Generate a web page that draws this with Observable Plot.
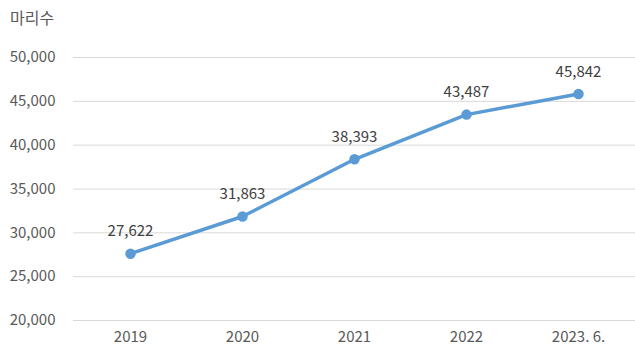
<!DOCTYPE html>
<html>
<head>
<meta charset="utf-8">
<script src="https://cdn.jsdelivr.net/npm/d3@7"></script>
<script src="https://cdn.jsdelivr.net/npm/@observablehq/plot@0.6"></script>
<style>
  body { margin: 0; background: #fff; }
  #wrap { position: relative; width: 635px; height: 364px; }
  #unit { position: absolute; left: 10px; top: 5px; font: 16px "Noto Sans CJK KR", "Noto Sans", sans-serif; color: #595959; }
</style>
</head>
<body>
<div id="wrap"><div id="unit">마리수</div></div>
<script>
const years = ["2019", "2020", "2021", "2022", "2023. 6."];
const counts = [27622, 31863, 38393, 43487, 45842];
const yTicks = [20000, 25000, 30000, 35000, 40000, 45000, 50000];

const data = years.map((y, i) => ({year: y, count: counts[i]}));
const fmt = d3.format(",");
const font = '"Noto Sans CJK KR", "Noto Sans", sans-serif';

const chart = Plot.plot({
  width: 635,
  height: 364,
  marginTop: 57,
  marginBottom: 44,
  marginLeft: 73,
  marginRight: 0,
  style: {fontFamily: font, fontSize: "15px", color: "#595959", background: "#fff"},
  x: {type: "point", domain: years, padding: 0.5, label: null},
  y: {domain: [20000, 50000], label: null},
  marks: [
    Plot.gridY(yTicks, {stroke: "#d9d9d9", strokeOpacity: 1, strokeWidth: 1}),
    Plot.axisY(yTicks, {tickSize: 0, tickPadding: 18, tickFormat: fmt, fill: "#595959", fontSize: 15, label: null}),
    Plot.axisX(years, {tickSize: 0, tickPadding: 11, fill: "#595959", fontSize: 15, label: null}),
    Plot.line(data, {x: "year", y: "count", stroke: "#5b9bd5", strokeWidth: 3.5, strokeLinejoin: "round", strokeLinecap: "round"}),
    Plot.dot(data, {x: "year", y: "count", r: 4.5, fill: "#5b9bd5", stroke: "#5b9bd5"}),
    Plot.text(data, {x: "year", y: "count", text: d => fmt(d.count), dy: -22, fill: "#404040", fontSize: 15})
  ]
});
document.getElementById("wrap").appendChild(chart);
</script>
</body>
</html>
